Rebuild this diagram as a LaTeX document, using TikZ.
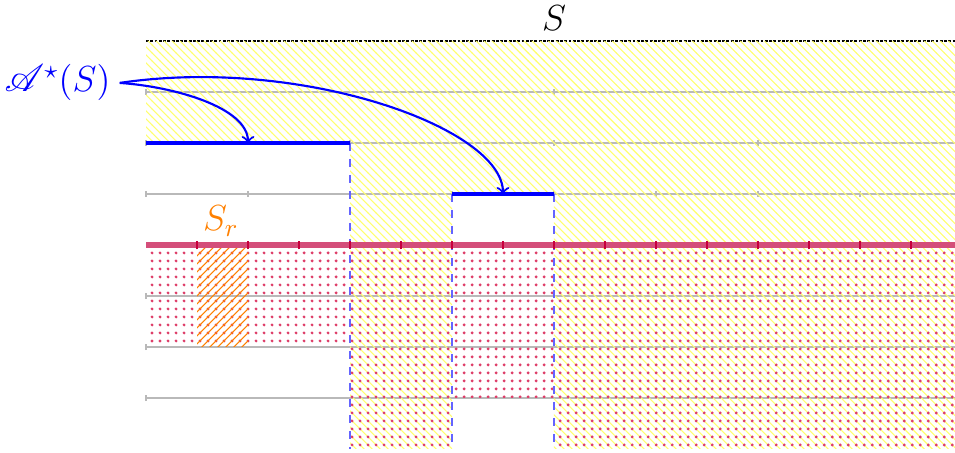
\RequirePackage{fix-cm}
\documentclass[tikz,border=0pt]{standalone}
\usepackage{mathrsfs}
\usetikzlibrary{patterns,patterns.meta}
\definecolor{redline}{RGB}{212,78,122}
\definecolor{redtick}{RGB}{200,0,60}
\definecolor{dotcol}{RGB}{222,62,105}
\definecolor{orng}{RGB}{255,128,0}
\definecolor{bluedashcol}{RGB}{100,100,255}
\definecolor{paleyellow}{RGB}{255,255,110}
\begin{document}
\begin{tikzpicture}[x=0.672cm,y=0.672cm,
  gridline/.style={gray!55, line width=0.45pt},
  gridtick/.style={gray!55, line width=0.45pt},
  topline/.style={black, line width=0.45pt, dash pattern=on 1.1pt off 0.5pt},
  yellowfill/.style={pattern=north west lines, pattern color=paleyellow},
  dotfill/.style={pattern={Dots[radius=0.6pt,distance=3pt]}, pattern color=dotcol},
  orangefill/.style={pattern=north east lines, pattern color=orng},
  bluedash/.style={bluedashcol, dashed, line width=0.6pt},
  redaxis/.style={redline, line width=1.9pt},
  redmark/.style={redtick, line width=1.1pt},
  bluethick/.style={blue, line width=1.5pt},
  bluearrow/.style={blue, thick, ->},
  lbl/.style={font=\fontsize{13.6}{16}\selectfont, inner sep=0.3333em}
]
\useasboundingbox (-2.863,-4.078) rectangle (15.863,4.804);
% gray levels
\foreach \y in {3,2,1,-1,-2,-3} \draw[gridline] (0,\y) -- (15.863,\y);
\foreach \x in {0,2,...,14} \draw[gridtick] (\x,0.94) -- (\x,1.06);
\foreach \x in {0,4,8,12} \draw[gridtick] (\x,1.94) -- (\x,2.06);
\foreach \x in {0,8} \draw[gridtick] (\x,2.94) -- (\x,3.06);
\foreach \y in {-1,-2,-3} \draw[gridtick] (0,\y-0.06) -- (0,\y+0.06);
\draw[topline] (0,4) -- (15.863,4);
% regions
\fill[yellowfill] (0,4) -- (15.863,4) -- (15.863,-4) -- (8,-4) -- (8,1) -- (6,1) -- (6,-4) -- (4,-4) -- (4,2) -- (0,2) -- cycle;
\fill[dotfill] (0,0) -- (15.863,0) -- (15.863,-4) -- (8,-4) -- (8,-3) -- (6,-3) -- (6,-4) -- (4,-4) -- (4,-2) -- (0,-2) -- cycle;
\fill[orangefill] (1,0) rectangle (2,-2);
% blue dashed verticals
\draw[bluedash] (4,2) -- (4,-4);
\draw[bluedash] (6,1) -- (6,-4);
\draw[bluedash] (8,1) -- (8,-4);
% red axis
\draw[redaxis] (0,0) -- (15.863,0);
\foreach \x in {1,...,15} \draw[redmark] (\x,-0.088) -- (\x,0.088);
% blue segments
\draw[bluethick] (0,2) -- (4,2);
\draw[bluethick] (6,1) -- (8,1);
% labels
\node[lbl, anchor=base] (S) at (8,4.2) {$S$};
\node[lbl, anchor=base, text=orng] (Sr) at (1.47,0.28) {$S_r$};
\node[lbl, anchor=base, text=blue] (A) at (-1.735,3.0) {$\mathscr{A}^\star(S)$};
\coordinate (t1) at (2,2);
\coordinate (t2) at (7,1);
\draw[bluearrow] (A.east) .. controls +(1.05,-0.07) and (2,2.7) .. (t1);
\draw[bluearrow] (A.east) .. controls +(3.55,0.53) and (7,2.3) .. (t2);
\end{tikzpicture}
\end{document}
